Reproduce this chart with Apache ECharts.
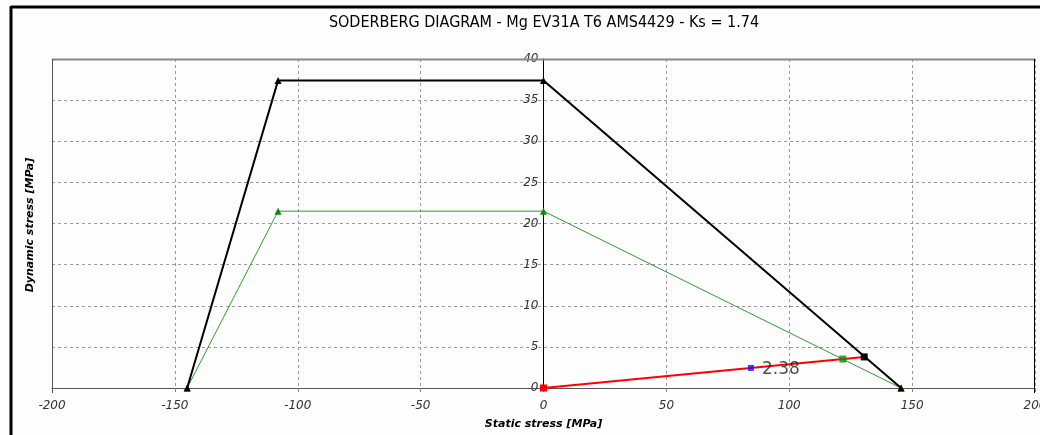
<!DOCTYPE html>
<html><head><meta charset="utf-8">
<script src="https://cdn.jsdelivr.net/npm/echarts@6/dist/echarts.min.js"></script>
<style>html,body{margin:0;padding:0;background:#fff}#c{width:1040px;height:435px}</style>
</head><body><div id="c"></div>
<script>
const titleText = 'SODERBERG DIAGRAM - Mg EV31A T6 AMS4429 - Ks = 1.74';
const xName = 'Static stress [MPa]';
const yName = 'Dynamic stress [MPa]';
const xTicks = [-200, -150, -100, -50, 0, 50, 100, 150, 200];
const yTicks = [0, 5, 10, 15, 20, 25, 30, 35, 40];
// Ultimate (black) envelope
const blackX = [-145, -108, 0, 145.5];
const blackY = [0, 37.4, 37.4, 0];
// Safe (green) envelope
const greenX = [-145, -108, 0, 145.5];
const greenY = [0, 21.5, 21.5, 0];
// Load line (red)
const redX = [0, 130.5];
const redY = [0, 3.78];
// Intersection with green envelope
const greenPtX = [121.8];
const greenPtY = [3.52];
// Working point (blue)
const bluePtX = [84.4];
const bluePtY = [2.44];
const blueLabel = '2.38';

const zip = (a, b) => a.map((v, i) => [v, b[i]]);
const chart = echarts.init(document.getElementById('c'));
const fontLabel = {fontFamily: 'DejaVu Sans', fontStyle: 'italic', fontSize: 12, color: '#333'};
const gridL = 52, gridR = 1035, gridT = 59, gridB = 388;
// pixel offset that puts the y axis on x = 0
const yAxisShift = -((gridR - gridL) / 2);
chart.setOption({
  backgroundColor: '#fdfdfd',
  animation: false,
  title: {text: titleText, left: 539, textAlign: 'center', top: 10,
    textStyle: {fontFamily: 'DejaVu Sans Condensed', fontWeight: 'normal', fontSize: 16, color: '#000'}},
  grid: {left: gridL, top: gridT, right: 1040 - gridR, bottom: 435 - gridB, show: false,
    containLabel: false, outerBoundsMode: 'none'},
  xAxis: {type: 'value', min: xTicks[0], max: xTicks[xTicks.length - 1], interval: 50,
    axisLine: {show: true, onZero: false, lineStyle: {color: '#555', width: 1}},
    axisTick: {show: true, length: 4, lineStyle: {color: '#888'}},
    axisLabel: Object.assign({margin: 12}, fontLabel),
    splitLine: {show: true, lineStyle: {color: '#9a9a9a', type: [3, 3]}},
    name: xName, nameLocation: 'middle', nameGap: 31,
    nameTextStyle: {fontFamily: 'DejaVu Sans', fontStyle: 'italic', fontWeight: 'bold', fontSize: 11, color: '#000'}
  },
  yAxis: {type: 'value', min: yTicks[0], max: yTicks[yTicks.length - 1], interval: 5,
    position: 'left', offset: yAxisShift,
    axisLine: {show: true, onZero: false, lineStyle: {color: '#000', width: 1}},
    axisTick: {show: false},
    axisLabel: Object.assign({margin: 5}, fontLabel),
    splitLine: {show: true, lineStyle: {color: '#9a9a9a', type: [3, 3]}}
  },
  graphic: [
    {type: 'line', shape: {x1: 11, y1: 7, x2: 1040, y2: 7}, style: {stroke: '#000', lineWidth: 3}},
    {type: 'line', shape: {x1: 11, y1: 6, x2: 11, y2: 435}, style: {stroke: '#000', lineWidth: 3}},
    {type: 'line', shape: {x1: gridL, y1: gridT + 0.5, x2: gridR, y2: gridT + 0.5}, style: {stroke: '#888', lineWidth: 2}, z: 10},
    {type: 'line', shape: {x1: gridL + 0.5, y1: gridT, x2: gridL + 0.5, y2: gridB + 5}, style: {stroke: '#555', lineWidth: 1}, z: 10},
    {type: 'line', shape: {x1: gridR - 0.5, y1: gridT, x2: gridR - 0.5, y2: gridB + 5}, style: {stroke: '#000', lineWidth: 1}, z: 10},
    {type: 'text', x: 30, y: 225, rotation: Math.PI / 2, style: {text: yName, textAlign: 'center', textVerticalAlign: 'middle',
      font: 'italic bold 11px "DejaVu Sans"', fill: '#000'}}
  ],
  series: [
    {type: 'line', data: zip(greenX, greenY), symbol: 'triangle', symbolSize: 7,
      lineStyle: {color: '#2e9a2e', width: 1}, itemStyle: {color: '#0a8a0a'}, z: 3},
    {type: 'line', data: zip(blackX, blackY), symbol: 'triangle', symbolSize: 7,
      lineStyle: {color: '#000', width: 2}, itemStyle: {color: '#000'}, z: 4},
    {type: 'line', data: zip(redX, redY), symbol: 'rect', symbolSize: 7,
      lineStyle: {color: '#ff0000', width: 2},
      itemStyle: {color: (p) => p.dataIndex === 0 ? '#ff0000' : '#000'}, z: 5},
    {type: 'scatter', data: zip(greenPtX, greenPtY), symbol: 'rect', symbolSize: 7,
      itemStyle: {color: '#0a8a0a'}, z: 6},
    {type: 'scatter', data: zip(bluePtX, bluePtY), symbol: 'rect', symbolSize: 6,
      itemStyle: {color: '#1010ff'}, z: 6,
      label: {show: true, position: 'right', distance: 8, offset: [0, 2], formatter: blueLabel,
        fontFamily: 'DejaVu Sans', fontSize: 17, color: '#222'}}
  ]
});
</script></body></html>
